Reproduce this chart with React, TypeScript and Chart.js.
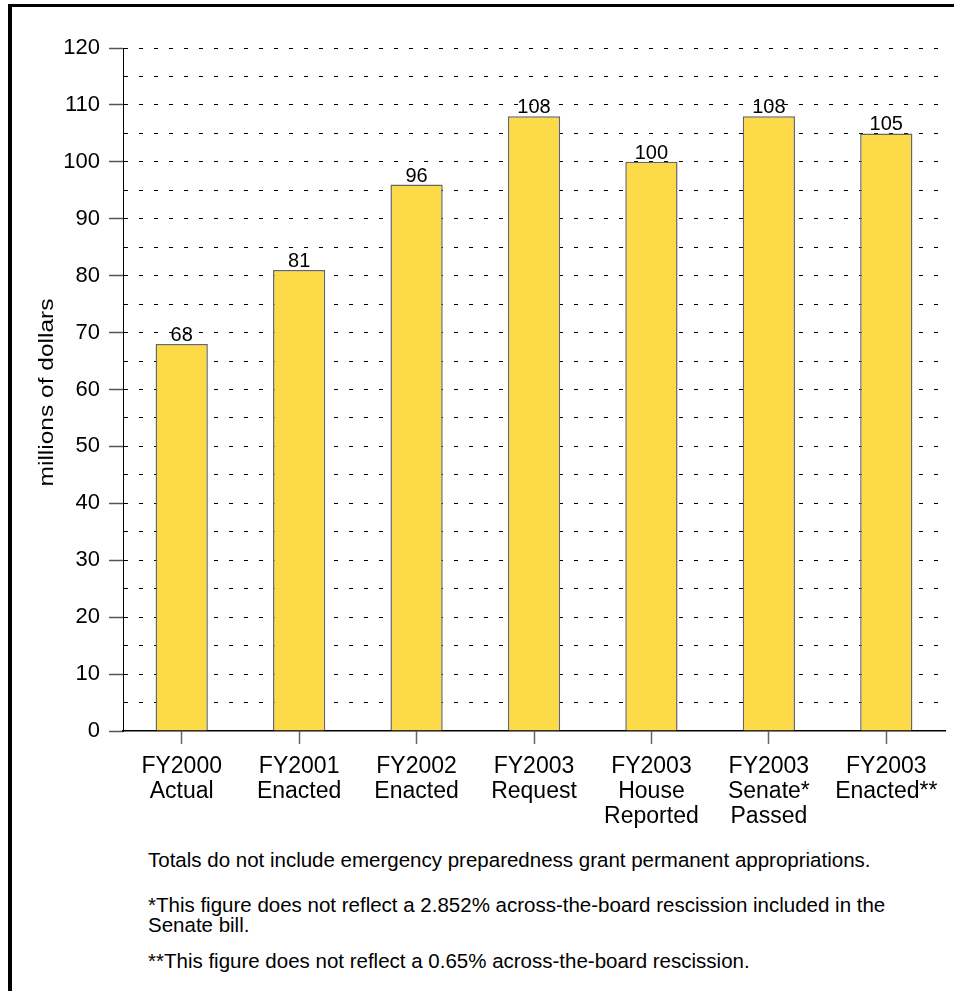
import React, { useEffect, useRef } from "react";
import { Chart, registerables } from "chart.js";

Chart.register(...registerables);

const categories: string[][] = [
  ["FY2000", "Actual"],
  ["FY2001", "Enacted"],
  ["FY2002", "Enacted"],
  ["FY2003", "Request"],
  ["FY2003", "House", "Reported"],
  ["FY2003", "Senate*", "Passed"],
  ["FY2003", "Enacted**"],
];
const values: number[] = [68, 81, 96, 108, 100, 108, 105];
const yAxisTitle = "millions of dollars";
const yMin = 0;
const yMax = 120;
const yStep = 5;
const yLabelStep = 10;
const footnotes: string[][] = [
  ["Totals do not include emergency preparedness grant permanent appropriations."],
  ["*This figure does not reflect a 2.852% across-the-board rescission included in the", "Senate bill."],
  ["**This figure does not reflect a 0.65% across-the-board rescission."],
];

const FONT = '"Liberation Sans", Arial, Helvetica, sans-serif';

const valueLabels = {
  id: "valueLabels",
  afterDatasetsDraw(chart: any) {
    const ctx = chart.ctx;
    const meta = chart.getDatasetMeta(0);
    ctx.save();
    ctx.font = `20px ${FONT}`;
    ctx.fillStyle = "#000";
    ctx.textAlign = "center";
    ctx.textBaseline = "alphabetic";
    meta.data.forEach((bar: any, i: number) => {
      ctx.fillText(String(chart.data.datasets[0].data[i]), bar.x, bar.y - 3);
    });
    ctx.restore();
  },
};

const yTitle = {
  id: "yTitle",
  afterDraw(chart: any) {
    const ctx = chart.ctx;
    const area = chart.chartArea;
    ctx.save();
    ctx.translate(47, (area.top + area.bottom) / 2 + 3);
    ctx.rotate(-Math.PI / 2);
    ctx.scale(1, 0.85);
    ctx.font = `24.5px ${FONT}`;
    ctx.fillStyle = "#000";
    ctx.textAlign = "center";
    ctx.textBaseline = "middle";
    ctx.fillText(yAxisTitle, 0, 0);
    ctx.restore();
  },
};

function BarChart() {
  const ref = useRef<HTMLCanvasElement | null>(null);
  useEffect(() => {
    if (!ref.current) return;
    Chart.defaults.font.family = FONT;
    Chart.defaults.color = "#000";
    const chart = new Chart(ref.current, {
      type: "bar",
      data: {
        labels: categories,
        datasets: [
          {
            data: values,
            backgroundColor: "#FDDA48",
            borderColor: "#666666",
            borderWidth: 1.5,
            barPercentage: 0.445,
            categoryPercentage: 1,
          },
        ],
      },
      options: {
        animation: false,
        responsive: false,
        maintainAspectRatio: false,
        layout: { padding: { top: 48, right: 9, left: 0, bottom: 0 } },
        plugins: {
          legend: { display: false },
          tooltip: { enabled: false },
          title: { display: false },
        },
        scales: {
          x: {
            offset: true,
            grid: {
              display: true,
              drawOnChartArea: false,
              drawTicks: true,
              tickLength: 13,
              tickColor: "#666",
              tickWidth: 1.5,
              offset: false,
            },
            border: { display: true, color: "#000", width: 1.5 },
            ticks: {
              padding: 10,
              maxRotation: 0,
              autoSkip: false,
              font: { size: 23, lineHeight: "25px" },
              color: "#000",
            },
            afterFit(scale: any) {
              scale.height = 114;
            },
          },
          y: {
            min: yMin,
            max: yMax,
            ticks: {
              stepSize: yStep,
              padding: 9,
              autoSkip: false,
              font: { size: 22 },
              color: "#000",
              callback: (v: any) => (Number(v) % yLabelStep === 0 ? String(v) : ""),
            },
            grid: {
              color: (c: any) => (c.tick && c.tick.value === 0 ? "rgba(0,0,0,0)" : "#000"),
              lineWidth: 1,
              drawTicks: true,
              tickLength: 14,
              tickColor: (c: any) =>
                c.tick && c.tick.value % yLabelStep === 0 ? "#555" : "rgba(0,0,0,0)",
              tickWidth: 1.5,
            },
            border: { display: true, color: "#000", width: 1, dash: [4, 11] },
            afterFit(scale: any) {
              scale.width = 123;
            },
          },
        },
      },
      plugins: [valueLabels, yTitle],
    });
    return () => chart.destroy();
  }, []);
  return (
    <canvas
      ref={ref}
      width={954}
      height={845}
      style={{ position: "absolute", left: 0, top: 0, width: 954, height: 845, display: "block" }}
    />
  );
}

export default function App() {
  const tops = [850, 895, 951];
  return (
    <div>
      <div
        style={{
          position: "absolute",
          left: 8,
          top: 4,
          width: 946,
          height: 987,
          borderLeft: "4px solid #000",
          borderTop: "3px solid #000",
          boxSizing: "border-box",
        }}
      />
      <BarChart />
      {footnotes.map((lines, i) => (
        <div
          key={i}
          style={{
            position: "absolute",
            left: 148,
            top: tops[i],
            fontFamily: FONT,
            fontSize: 20.5,
            lineHeight: "20px",
            whiteSpace: "nowrap",
            color: "#000",
          }}
        >
          {lines.map((l, j) => (
            <div key={j}>{l}</div>
          ))}
        </div>
      ))}
    </div>
  );
}
